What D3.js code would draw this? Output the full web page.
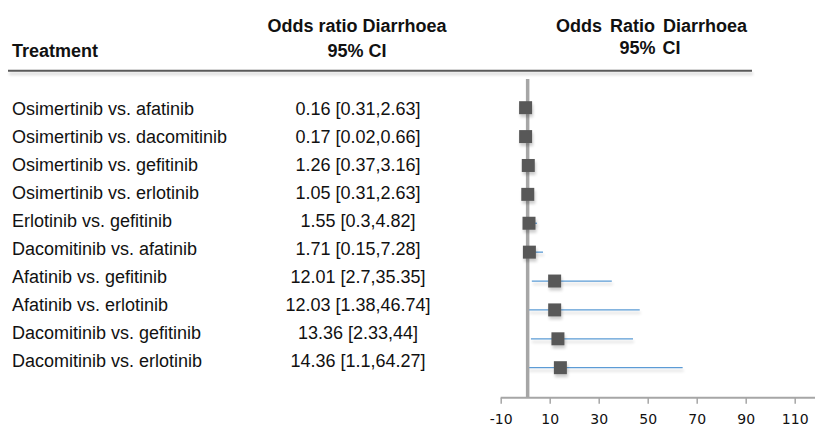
<!DOCTYPE html>
<html>
<head>
<meta charset="utf-8">
<script src="https://cdn.jsdelivr.net/npm/d3@7"></script>
<style>
  html, body { margin: 0; padding: 0; background: #fff; }
  svg { display: block; }
</style>
</head>
<body>
<svg id="chart" width="815" height="428"></svg>
<script>
// Pairwise comparisons and their odds ratios for diarrhoea
const treatments = [
  "Osimertinib vs. afatinib",
  "Osimertinib vs. dacomitinib",
  "Osimertinib vs. gefitinib",
  "Osimertinib vs. erlotinib",
  "Erlotinib vs. gefitinib",
  "Dacomitinib vs. afatinib",
  "Afatinib vs. gefitinib",
  "Afatinib vs. erlotinib",
  "Dacomitinib vs. gefitinib",
  "Dacomitinib vs. erlotinib"
];
const oddsRatio = [0.16, 0.17, 1.26, 1.05, 1.55, 1.71, 12.01, 12.03, 13.36, 14.36];
const ciLower   = [0.31, 0.02, 0.37, 0.31, 0.3, 0.15, 2.7, 1.38, 2.33, 1.1];
const ciUpper   = [2.63, 0.66, 3.16, 2.63, 4.82, 7.28, 35.35, 46.74, 44, 64.27];
const ciLabels  = ["0.16 [0.31,2.63]", "0.17 [0.02,0.66]", "1.26 [0.37,3.16]", "1.05 [0.31,2.63]",
                   "1.55 [0.3,4.82]", "1.71 [0.15,7.28]", "12.01 [2.7,35.35]", "12.03 [1.38,46.74]",
                   "13.36 [2.33,44]", "14.36 [1.1,64.27]"];
const tickValues = [-10, 10, 30, 50, 70, 90, 110];
const nullValue = 1;

const W = 815, H = 428;
const svg = d3.select("#chart");
const textFont = "'Liberation Sans', Arial, sans-serif";

// soft drop shadow used on the rule, CI lines and markers
const defs = svg.append("defs");
const shadow = defs.append("filter").attr("id", "shadow")
  .attr("filterUnits", "userSpaceOnUse")
  .attr("x", 0).attr("y", 0).attr("width", W).attr("height", H);
shadow.append("feGaussianBlur").attr("in", "SourceAlpha").attr("stdDeviation", 1.6).attr("result", "b");
shadow.append("feOffset").attr("in", "b").attr("dx", 1).attr("dy", 3).attr("result", "o");
shadow.append("feComponentTransfer").attr("in", "o").attr("result", "s")
  .append("feFuncA").attr("type", "linear").attr("slope", 0.2);
const merge = shadow.append("feMerge");
merge.append("feMergeNode").attr("in", "s");
merge.append("feMergeNode").attr("in", "SourceGraphic");

// scales
const x = d3.scaleLinear().domain([-10, 110]).range([500.7, 794.7]);
const yText = d3.scalePoint().domain(treatments).range([115, 366.7]);   // text baselines
const yMark = d3.scalePoint().domain(treatments).range([107.7, 367.7]); // marker centres
const axisY = 397.7;

// header
const header = svg.append("g").attr("font-family", textFont).attr("font-weight", "bold")
  .attr("font-size", 18).attr("fill", "#111");
header.append("text").attr("x", 12).attr("y", 56.5).text("Treatment");
header.append("text").attr("x", 357).attr("y", 32.3).attr("text-anchor", "middle").text("Odds ratio Diarrhoea");
header.append("text").attr("x", 357).attr("y", 56.5).attr("text-anchor", "middle").text("95% CI");
header.append("text").attr("x", 651.5).attr("y", 32.3).attr("text-anchor", "middle").attr("word-spacing", 3).text("Odds Ratio Diarrhoea");
header.append("text").attr("x", 650).attr("y", 54).attr("text-anchor", "middle").attr("word-spacing", 2).text("95% CI");

svg.append("line").attr("x1", 8).attr("x2", 752).attr("y1", 70.7).attr("y2", 70.7)
  .attr("stroke", "#5a5a5a").attr("stroke-width", 2).attr("filter", "url(#shadow)");

// table text
const rows = svg.append("g").attr("font-family", textFont).attr("font-size", 18).attr("fill", "#111");
rows.selectAll("text.name").data(treatments).join("text")
  .attr("class", "name").attr("x", 12).attr("y", d => yText(d)).text(d => d);
rows.selectAll("text.ci").data(treatments).join("text")
  .attr("class", "ci").attr("x", 358).attr("y", d => yText(d))
  .attr("text-anchor", "middle").text((d, i) => ciLabels[i]);

// x axis
const axis = svg.append("g").attr("transform", `translate(0,${axisY})`)
  .call(d3.axisBottom(x).tickValues(tickValues).tickFormat(d => String(d))
    .tickSize(6).tickPadding(10.5).tickSizeOuter(0));
axis.select(".domain").attr("stroke", "#a6a6a6").attr("stroke-width", 2)
  .attr("d", `M${x(-10)},0H${W}`);
axis.selectAll(".tick line").attr("stroke", "#a6a6a6").attr("stroke-width", 1.5);
axis.selectAll(".tick text").attr("font-family", "'DejaVu Sans', Verdana, sans-serif")
  .attr("font-size", 14).attr("fill", "#111");

// confidence intervals
svg.append("g").selectAll("line").data(treatments).join("line")
  .attr("x1", (d, i) => x(ciLower[i])).attr("x2", (d, i) => x(ciUpper[i]))
  .attr("y1", d => yMark(d)).attr("y2", d => yMark(d))
  .attr("stroke", "#5b9bd5").attr("stroke-width", 1.3).attr("filter", "url(#shadow)");

// line of no effect
svg.append("line").attr("x1", x(nullValue)).attr("x2", x(nullValue))
  .attr("y1", 79).attr("y2", axisY)
  .attr("stroke", "#a6a6a6").attr("stroke-width", 3.5);

// point estimates
const size = 13;
svg.append("g").selectAll("rect").data(treatments).join("rect")
  .attr("x", (d, i) => x(oddsRatio[i]) - size / 2)
  .attr("y", d => yMark(d) - size / 2)
  .attr("width", size).attr("height", size)
  .attr("fill", "#595959").attr("filter", "url(#shadow)");
</script>
</body>
</html>
